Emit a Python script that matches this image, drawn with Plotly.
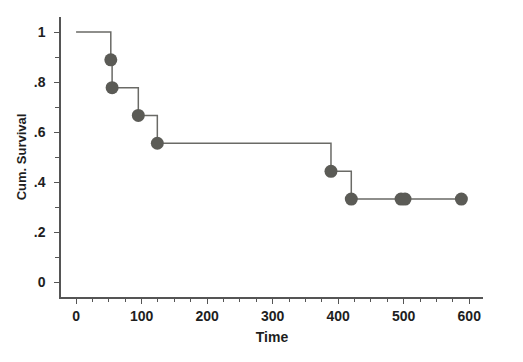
import plotly.graph_objects as go

# Kaplan-Meier step data
step_time = [0, 53, 55, 95, 124, 389, 420, 588]
step_surv = [1.0, 0.889, 0.778, 0.667, 0.556, 0.444, 0.333, 0.333]

# Marker points
mark_time = [53, 55, 95, 124, 389, 420, 496, 502, 588]
mark_surv = [0.889, 0.778, 0.667, 0.556, 0.444, 0.333, 0.333, 0.333, 0.333]

x_ticks = [0, 100, 200, 300, 400, 500, 600]
y_ticks = [0, 0.2, 0.4, 0.6, 0.8, 1.0]
y_ticktext = ["0", ".2", ".4", ".6", ".8", "1"]

FONT = "Liberation Sans, Arial, sans-serif"

fig = go.Figure()
fig.add_trace(go.Scatter(
    x=step_time, y=step_surv, mode="lines",
    line=dict(shape="hv", color="#6a6a66", width=1.5),
    showlegend=False, hoverinfo="skip",
))
fig.add_trace(go.Scatter(
    x=mark_time, y=mark_surv, mode="markers",
    marker=dict(size=13, color="#5b5b56", line=dict(width=0)),
    showlegend=False,
))

fig.update_layout(
    width=515, height=354,
    margin=dict(l=53, r=40, t=9, b=65),
    paper_bgcolor="white", plot_bgcolor="white",
    font=dict(family=FONT, size=14, color="#1e1e1e", weight="bold"),
    xaxis=dict(
        range=[-23, 621], tickvals=x_ticks, automargin=False,
        showline=True, linecolor="#555555", linewidth=1.5,
        ticks="outside", ticklen=5, tickwidth=1.2, tickcolor="#555555",
        showgrid=False, zeroline=False, ticklabelstandoff=0,
        minor=dict(ticks="outside", dtick=25, tick0=0, ticklen=3, tickcolor="#555555", tickwidth=1),
        title=dict(text="Time", font=dict(size=14, weight="bold"), standoff=10),
        tickfont=dict(size=14, weight="bold"),
    ),
    yaxis=dict(
        range=[-0.058, 1.06], tickvals=y_ticks, ticktext=y_ticktext, automargin=False,
        showline=True, linecolor="#555555", linewidth=1.5,
        ticks="outside", ticklen=5, tickwidth=1.2, tickcolor="#555555",
        showgrid=False, zeroline=False, ticklabelstandoff=6,
        minor=dict(ticks="outside", dtick=0.1, tick0=0, ticklen=4, tickcolor="#555555", tickwidth=1),
        title=dict(text="Cum. Survival", font=dict(size=13, weight="bold"), standoff=4),
        tickfont=dict(size=14, weight="bold"),
    ),
)

fig.write_html("out.html")
